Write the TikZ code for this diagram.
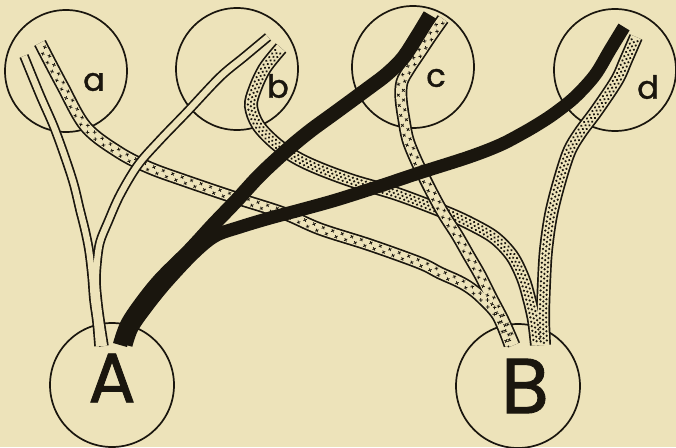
\documentclass[tikz,border=0pt]{standalone}
\usepackage{fontspec}
\setmainfont{Poppins}
\newfontfamily\lettrfont{Poppins}[FakeBold=1.2]
\usetikzlibrary{decorations.markings}
\definecolor{paper}{RGB}{237,227,186}
\definecolor{ink}{RGB}{26,22,14}
\tikzset{
  ring/.style={circle, draw=ink, line width=1.7pt, minimum size=122pt, inner sep=0pt},
  lbl/.style={inner sep=0pt, text=ink, font=\lettrfont\fontsize{32}{34}\selectfont},
  biglbl/.style={inner sep=0pt, text=ink, font=\lettrfont\fontsize{#1}{#1}\selectfont},
  plainout/.style={draw=ink, line width=9.6pt},
  plainin/.style={draw=paper, line width=6.2pt},
  crossout/.style={draw=ink, line width=13pt},
  crossin/.style={draw=paper, line width=9.6pt},
  dotout/.style={draw=ink, line width=14pt},
  dotin/.style={draw=paper, line width=10.6pt},
  crossfill/.style={decoration={markings, mark=between positions 0.01 and 0.99 step 10pt with {
      \draw[ink, line width=0.8pt] (-1.3pt,1.1pt)--(1.3pt,3.7pt) (-1.3pt,3.7pt)--(1.3pt,1.1pt)
        (3.7pt,-1.1pt)--(6.3pt,-3.7pt) (3.7pt,-3.7pt)--(6.3pt,-1.1pt);}}, decorate},
  dotfill/.style={decoration={markings, mark=between positions 0.01 and 0.99 step 4.6pt with {
      \fill[ink] (0pt,3.1pt) circle (1.25pt) (2.3pt,0pt) circle (1.25pt) (0.6pt,-3.1pt) circle (1.25pt);}}, decorate},
  nervec/.style={draw=ink, line width=14.5pt},
  nerved/.style={draw=ink, line width=13pt},
}
\newcommand\nervepath[2]{\expandafter\nervepathX\expandafter{#2}{#1}}
\newcommand\nervepathX[2]{\path[#2] plot[smooth, tension=0.55] coordinates {#1};}
\def\cPA{(24,56) (40,95) (54,127) (66,160) (74,185) (80,210) (85,230) (89,250) (92,275) (94,300) (97,322) (99,346)}
\def\cPB{(268,37) (244,57) (220,77) (187,112) (160,140) (138,165) (120,195) (108,222) (100,242) (97,262) (96,282) (98,305) (101,327) (104,346)}
\def\cCA{(40,43) (62,85) (86,127) (120,153) (150,168) (183,180) (233,197) (283,213) (320,229) (370,245) (420,263) (440,273) (458,281) (470,288) (482,298) (498,316) (510,345)}
\def\cCC{(443,19) (431,36) (419,54) (409,69) (402,82) (401,98) (404,120) (408,140) (416,160) (429,187) (443,213) (457,235) (469,256) (480,275) (491,297) (503,320) (514,345)}
\def\cDB{(281,48) (265,68) (255,89) (251,106) (258,125) (275,143) (295,157) (318,168) (353,181) (397,194) (447,213) (473,225) (495,238) (512,256) (523,278) (529,298) (534,320) (537,345)}
\def\cDD{(636,37) (626,60) (617,80) (597,110) (580,133) (569,152) (559,183) (551,215) (546,250) (544,283) (543,317) (544,345)}
\def\cBC{(430,15) (418,35) (403,58) (387,74) (370,87) (336,112) (310,131) (287,150) (260,175) (237,200) (213,225) (190,250) (160,280) (140,305) (127,325) (120,345)}
\def\cBD{(624,27) (610,50) (595,75) (575,97) (555,113) (540,123) (523,133) (500,145) (469,157) (419,173) (380,186) (336,200) (300,210) (270,218) (240,227) (215,236) (193,254) (165,284) (145,309) (132,328) (126,345)}
\begin{document}
\begin{tikzpicture}[x=1pt, y=-1pt]
  \useasboundingbox (0,0) rectangle (676,447);
  \fill[paper] (0,0) rectangle (676,447);
  % circles
  \node[ring] (ca) at (66,71) {};
  \node[ring] (cb) at (237,69) {};
  \node[ring] (cc) at (413,67) {};
  \node[ring] (cd) at (615,70) {};
  \node[ring, minimum size=124pt] (cA) at (112,385) {};
  \node[ring, minimum size=124pt] (cB) at (518,386) {};
  % labels
  \node[lbl] (ta) at (94,82) {a};
  \node[lbl] (tb) at (278,86) {b};
  \node[lbl] (tc) at (436,78) {c};
  \node[lbl] (td) at (648,87) {d};
  \node[biglbl=70] (tA) at (112,378) {A};
  \node[biglbl=78] (tB) at (525,386) {B};
  % dotted fibres
  \nervepath{dotout}{\cDB}
  \nervepath{dotout}{\cDD}
  \nervepath{dotin}{\cDB}
  \nervepath{dotin}{\cDD}
  \nervepath{dotfill}{\cDB}
  \nervepath{dotfill}{\cDD}
  % crossed fibres
  \nervepath{crossout}{\cCA}
  \nervepath{crossout}{\cCC}
  \nervepath{crossin}{\cCA}
  \nervepath{crossin}{\cCC}
  \nervepath{crossfill}{\cCA}
  \nervepath{crossfill}{\cCC}
  % plain fibres
  \nervepath{plainout}{\cPA}
  \nervepath{plainout}{\cPB}
  \nervepath{plainin}{\cPA}
  \nervepath{plainin}{\cPB}
  % black fibres
  \nervepath{nerved}{\cBD}
  \nervepath{nervec}{\cBC}
\end{tikzpicture}
\end{document}
